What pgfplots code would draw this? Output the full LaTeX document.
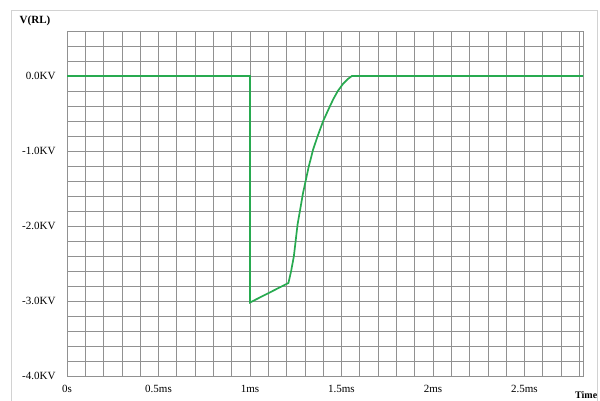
\documentclass[border=0pt]{standalone}
\usepackage{fontspec}
\setmainfont{Liberation Serif}
\usepackage{pgfplots}
\pgfplotsset{compat=1.18}
\definecolor{wave}{RGB}{40,170,80}
\definecolor{gridc}{RGB}{145,145,145}
\begin{document}
\begin{tikzpicture}[x=1pt,y=1pt]
\useasboundingbox (0,0) rectangle (600,400);
\draw[gray!35, line width=0.8pt] (11,-10) -- (11,390) -- (597,390) -- (597,-10);
\begin{axis}[
  at={(67pt,24pt)}, anchor=south west,
  width=516pt, height=345pt, scale only axis,
  xmin=0, xmax=2.82, ymin=-4, ymax=0.6,
  xtick={0,0.5,1,1.5,2,2.5},
  xticklabels={0s,0.5ms,1ms,1.5ms,2ms,2.5ms},
  ytick={-4,-3,-2,-1,0},
  yticklabels={-4.0KV,-3.0KV,-2.0KV,-1.0KV,0.0KV},
  minor xtick={0,0.1,...,2.85},
  minor ytick={-4,-3.8,...,0.65},
  grid=both,
  major grid style={gridc, line width=0.7pt},
  minor grid style={gridc, line width=0.7pt},
  axis line style={gridc, line width=0.7pt},
  major tick length=0pt, minor tick length=0pt,
  ticklabel style={font=\fontsize{11}{13}\selectfont},
  yticklabel style={xshift=-8pt},
  xticklabel style={yshift=-6pt},
]
\addplot[wave, line width=1.7pt] coordinates {
(0,0) (1.0,0) (1.0,-3.02) (1.21,-2.76) (1.225,-2.60) (1.24,-2.40) (1.26,-1.98)
(1.29,-1.56) (1.32,-1.22) (1.345,-0.98) (1.37,-0.80) (1.40,-0.60) (1.43,-0.44)
(1.455,-0.31) (1.48,-0.20) (1.51,-0.10) (1.535,-0.04) (1.557,0) (2.82,0)
};
\end{axis}
\node[font=\bfseries\fontsize{11}{13}\selectfont] at (35,379) {V(RL)};
\node[font=\bfseries\fontsize{10}{12}\selectfont, anchor=south west, inner sep=0pt] at (575,1) {Time};
\end{tikzpicture}
\end{document}
